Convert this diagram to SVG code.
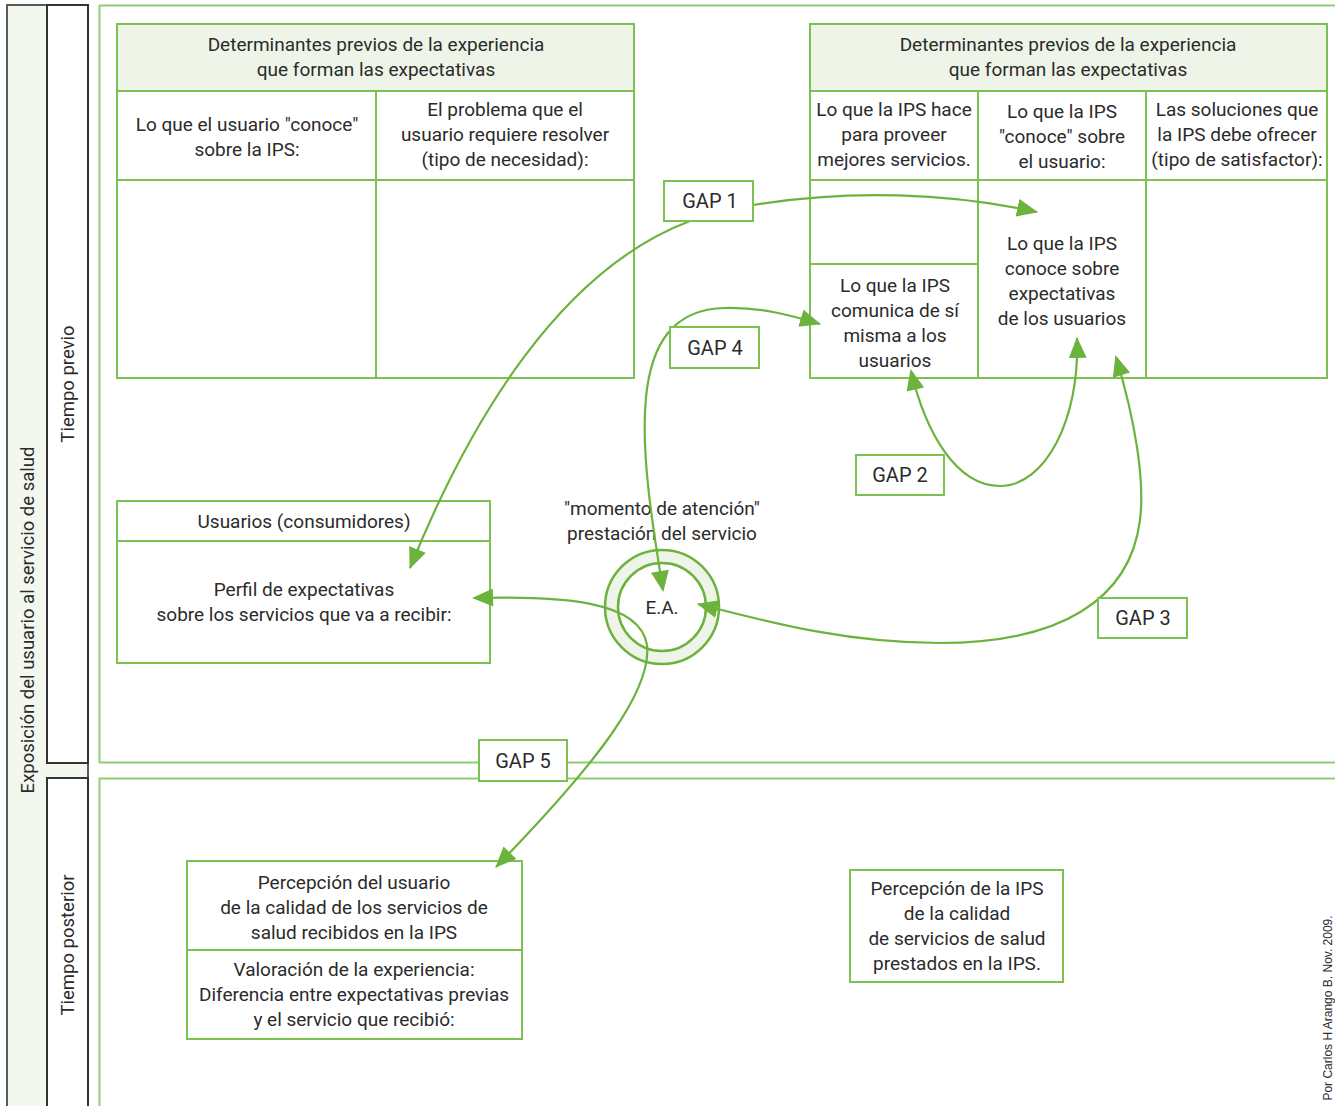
<svg xmlns="http://www.w3.org/2000/svg" width="1335" height="1106" viewBox="0 0 1335 1106">
  <style>
    text { font-family: Roboto, "Liberation Sans", sans-serif; font-size: 19px; fill: #2b2b2b; text-anchor: middle; }
    .frame { fill: none; stroke: #92cd72; stroke-width: 2; }
    .cell { fill: #ffffff; stroke: #7cc152; stroke-width: 2; }
    .head { fill: #eef5e8; stroke: #7cc152; stroke-width: 2; }
    .line { stroke: #7cc152; stroke-width: 2; fill: none; }
    .gap rect { fill: #ffffff; stroke: #7cc152; stroke-width: 2; }
    .gap text { font-size: 20px; }
    .band { fill: #f3f8ef; stroke: #5a5a5a; stroke-width: 2; }
    .lane { fill: #ffffff; stroke: #333333; stroke-width: 2; }
    .side { font-size: 18.5px; }
    .conn { fill: none; stroke: #6cb33e; stroke-width: 2.2; }
  </style>
  <defs>
    <marker id="arrow" markerWidth="22" markerHeight="18" refX="20" refY="9" orient="auto" markerUnits="userSpaceOnUse">
      <path d="M0,0 L21,9 L0,18 z" fill="#6cb33e"/>
    </marker>
    <marker id="arrowStart" markerWidth="22" markerHeight="18" refX="2" refY="9" orient="auto" markerUnits="userSpaceOnUse">
      <path d="M21,0 L0,9 L21,18 z" fill="#6cb33e"/>
    </marker>
  </defs>

  <rect width="1335" height="1106" fill="#ffffff"/>

  <!-- side bands -->
  <g id="band-exposicion">
    <rect class="band" x="7" y="5" width="81" height="1110"/>
    <text class="side" transform="translate(34,620) rotate(-90)">Exposición del usuario al servicio de salud</text>
  </g>
  <g id="lane-previo">
    <rect class="lane" x="47" y="5" width="41" height="758"/>
    <text class="side" transform="translate(74,384) rotate(-90)">Tiempo previo</text>
  </g>
  <g id="lane-posterior">
    <rect class="lane" x="47" y="778" width="41" height="340"/>
    <text class="side" transform="translate(74,945) rotate(-90)">Tiempo posterior</text>
  </g>

  <!-- stage frames -->
  <g id="frame-previo"><rect class="frame" x="99.5" y="5.5" width="1250" height="757"/></g>
  <g id="frame-posterior"><rect class="frame" x="99.5" y="778.5" width="1250" height="340"/></g>

  <!-- user-side determinants table -->
  <g id="tabla-usuario">
    <rect class="cell" x="117" y="24" width="517" height="354"/>
    <rect class="head" x="117" y="24" width="517" height="67"/>
    <line class="line" x1="117" y1="180" x2="634" y2="180"/>
    <line class="line" x1="376" y1="91" x2="376" y2="378"/>
    <text x="376" y="51">Determinantes previos de la experiencia</text>
    <text x="376" y="76">que forman las expectativas</text>
    <text x="247" y="131">Lo que el usuario "conoce"</text>
    <text x="247" y="156">sobre la IPS:</text>
    <text x="505" y="116">El problema que el</text>
    <text x="505" y="141">usuario requiere resolver</text>
    <text x="505" y="166">(tipo de necesidad):</text>
  </g>

  <!-- provider-side determinants table -->
  <g id="tabla-ips">
    <rect class="cell" x="810" y="24" width="517" height="354"/>
    <rect class="head" x="810" y="24" width="517" height="67"/>
    <line class="line" x1="810" y1="180" x2="1327" y2="180"/>
    <line class="line" x1="978" y1="91" x2="978" y2="378"/>
    <line class="line" x1="1146" y1="91" x2="1146" y2="378"/>
    <line class="line" x1="810" y1="264" x2="978" y2="264"/>
    <text x="1068" y="51">Determinantes previos de la experiencia</text>
    <text x="1068" y="76">que forman las expectativas</text>
    <text x="894" y="116">Lo que la IPS hace</text>
    <text x="894" y="141">para proveer</text>
    <text x="894" y="166">mejores servicios.</text>
    <text x="1062" y="118">Lo que la IPS</text>
    <text x="1062" y="143">"conoce" sobre</text>
    <text x="1062" y="168">el usuario:</text>
    <text x="1237" y="116">Las soluciones que</text>
    <text x="1237" y="141">la IPS debe ofrecer</text>
    <text x="1237" y="166">(tipo de satisfactor):</text>
  </g>
  <g id="ips-comunica">
    <text x="895" y="292">Lo que la IPS</text>
    <text x="895" y="317">comunica de sí</text>
    <text x="895" y="342">misma a los</text>
    <text x="895" y="367">usuarios</text>
  </g>
  <g id="ips-conoce-expectativas">
    <text x="1062" y="250">Lo que la IPS</text>
    <text x="1062" y="275">conoce sobre</text>
    <text x="1062" y="300">expectativas</text>
    <text x="1062" y="325">de los usuarios</text>
  </g>

  <!-- users -->
  <g id="usuarios">
    <rect class="cell" x="117" y="501" width="373" height="162"/>
    <line class="line" x1="117" y1="541" x2="490" y2="541"/>
    <text x="304" y="528">Usuarios (consumidores)</text>
    <text x="304" y="596">Perfil de expectativas</text>
    <text x="304" y="621">sobre los servicios que va a recibir:</text>
  </g>

  <!-- moment of service -->
  <g id="momento-atencion">
    <text x="662" y="515">"momento de atención"</text>
    <text x="662" y="540">prestación del servicio</text>
  </g>
  <g id="ea">
    <circle cx="662" cy="607" r="51" fill="none" stroke="#eef5e8" stroke-width="14"/>
    <circle cx="662" cy="607" r="57" fill="none" stroke="#6cb33e" stroke-width="2.5"/>
    <circle cx="662" cy="607" r="44" fill="#ffffff" stroke="#6cb33e" stroke-width="2.5"/>
    <text x="662" y="614">E.A.</text>
  </g>

  <!-- later stage -->
  <g id="percepcion-usuario">
    <rect class="cell" x="187" y="861" width="335" height="178"/>
    <line class="line" x1="187" y1="950" x2="522" y2="950"/>
    <text x="354" y="889">Percepción del usuario</text>
    <text x="354" y="914">de la calidad de los servicios de</text>
    <text x="354" y="939">salud recibidos en la IPS</text>
    <text x="354" y="976">Valoración de la experiencia:</text>
    <text x="354" y="1001">Diferencia entre expectativas previas</text>
    <text x="354" y="1026">y el servicio que recibió:</text>
  </g>
  <g id="percepcion-ips">
    <rect class="cell" x="850" y="870" width="213" height="112"/>
    <text x="957" y="895">Percepción de la IPS</text>
    <text x="957" y="920">de la calidad</text>
    <text x="957" y="945">de servicios de salud</text>
    <text x="957" y="970">prestados en la IPS.</text>
  </g>

  <!-- connectors -->
  <g id="connectors">
    <path class="conn" d="M753,205 C850,189 950,193 1037,212" marker-end="url(#arrow)"/>
    <path class="conn" d="M690,221 C560,270 470,420 410,568" marker-end="url(#arrow)"/>
    <path class="conn" d="M663,590 C640,450 620,310 725,308 C760,307 790,315 820,324" marker-start="url(#arrowStart)" marker-end="url(#arrow)"/>
    <path class="conn" d="M911,371 C925,430 955,486 1000,486 C1045,486 1080,420 1077,338" marker-start="url(#arrowStart)" marker-end="url(#arrow)"/>
    <path class="conn" d="M1116,357 C1135,420 1145,480 1140,520 C1130,600 1060,643 940,643 C850,643 780,625 698,604" marker-start="url(#arrowStart)" marker-end="url(#arrow)"/>
    <path class="conn" d="M474,598 C560,596 640,600 647,645 C652,690 600,760 496,867" marker-start="url(#arrowStart)" marker-end="url(#arrow)"/>
  </g>

  <!-- gap labels -->
  <g id="gap1" class="gap"><rect x="664" y="181" width="89" height="40"/><text x="710" y="208">GAP 1</text></g>
  <g id="gap2" class="gap"><rect x="856" y="455" width="88" height="40"/><text x="900" y="482">GAP 2</text></g>
  <g id="gap3" class="gap"><rect x="1098" y="598" width="89" height="40"/><text x="1143" y="625">GAP 3</text></g>
  <g id="gap4" class="gap"><rect x="670" y="327" width="89" height="41"/><text x="715" y="355">GAP 4</text></g>
  <g id="gap5" class="gap"><rect x="479" y="740" width="88" height="41"/><text x="523" y="768">GAP 5</text></g>

  <text transform="translate(1332,1008) rotate(-90)" style="font-family: 'Liberation Sans', Arial, sans-serif; font-size: 12px;">Por Carlos H Arango B. Nov. 2009.</text>
</svg>
